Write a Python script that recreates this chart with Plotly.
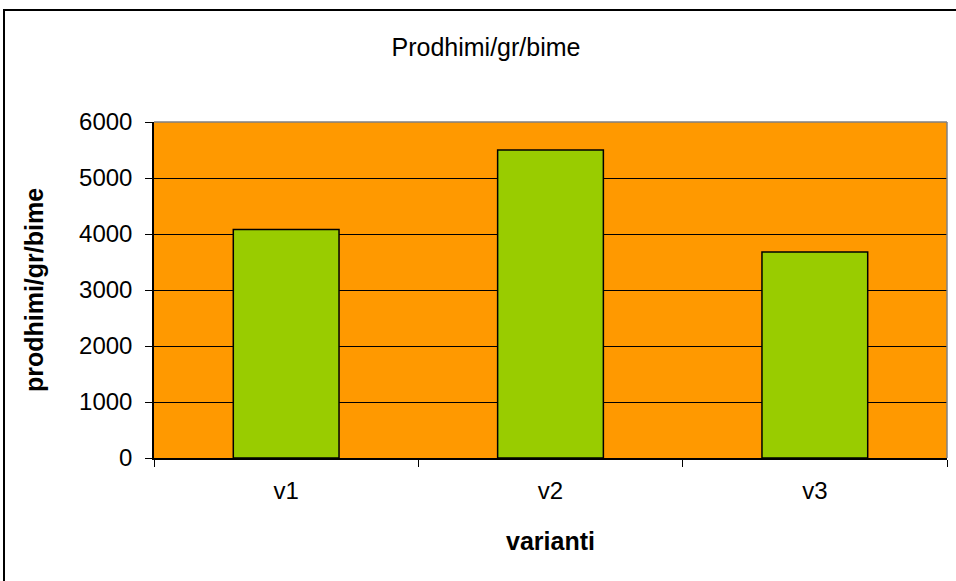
import plotly.graph_objects as go

categories = ["v1", "v2", "v3"]
values = [4080, 5500, 3680]
y_ticks = [0, 1000, 2000, 3000, 4000, 5000, 6000]

W, H = 956, 581
L, R, T, B = 154, 9, 122, 123
pw, ph = W - L - R, H - T - B

def px_x(p):
    return (p - L) / pw

def px_y(p):
    return (H - B - p) / ph

fig = go.Figure(go.Bar(
    x=categories, y=values,
    marker=dict(color="#99CC00", line=dict(color="black", width=1.5)),
    width=0.4,
))

fig.update_layout(
    width=W, height=H,
    margin=dict(l=L, r=R, t=T, b=B),
    paper_bgcolor="white",
    plot_bgcolor="#FF9900",
    showlegend=False,
    font=dict(family="Arial, Liberation Sans", size=24, color="black"),
    title=dict(text="Prodhimi/gr/bime", x=(389 + 583) / 2 / W, xanchor="center",
               y=1 - 47 / H, yanchor="middle", yref="container",
               font=dict(size=25, color="black")),
    xaxis=dict(
        type="category", tickson="boundaries", ticks="outside", ticklen=7,
        tickcolor="black", showline=True, linecolor="black", linewidth=1.5,
        showgrid=False, ticklabelstandoff=10,
        title=dict(text="<b>varianti</b>", font=dict(size=25), standoff=30),
    ),
    yaxis=dict(
        range=[0, 6000], tickvals=y_ticks, ticks="outside", ticklen=7,
        tickcolor="black", showline=True, linecolor="black", linewidth=1.5,
        showgrid=True, gridcolor="black", gridwidth=1.2,
        zeroline=False, ticklabelstandoff=8,
        title=dict(text="<b>prodhimi/gr/bime</b>", font=dict(size=25), standoff=28),
    ),
    shapes=[
        dict(type="line", xref="paper", yref="paper", x0=0, x1=1, y0=1, y1=1,
             line=dict(color="#808080", width=1.5)),
        dict(type="line", xref="paper", yref="paper", x0=1, x1=1, y0=0, y1=1,
             line=dict(color="#808080", width=1.5)),
        dict(type="rect", xref="paper", yref="paper",
             x0=px_x(4), x1=px_x(970), y0=px_y(600), y1=px_y(10),
             line=dict(color="black", width=2), layer="below"),
    ],
)

fig.write_html("out.html", config={"displayModeBar": False},
               post_script="document.body.style.margin='0';document.body.style.overflow='hidden';")
